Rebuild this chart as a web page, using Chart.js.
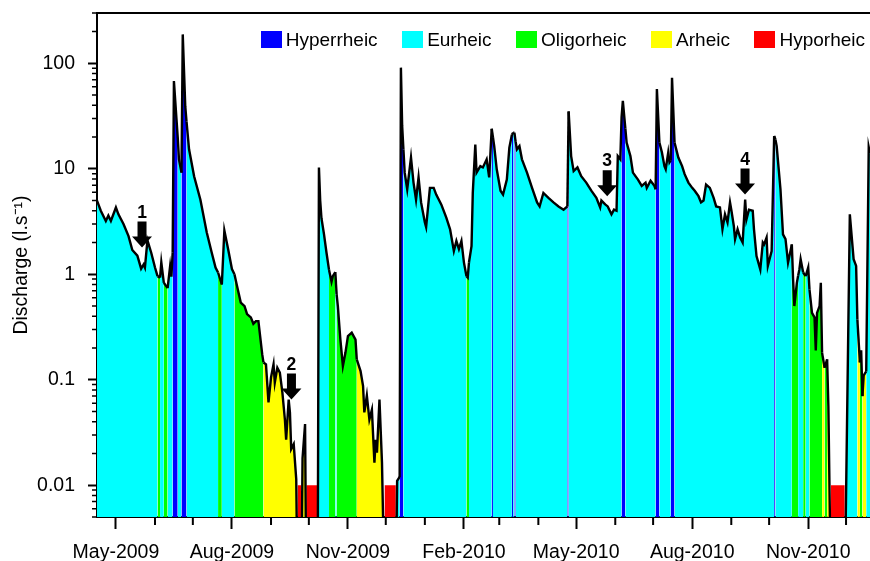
<!DOCTYPE html>
<html>
<head>
<meta charset="utf-8">
<title>Discharge and flow regimes</title>
<script src="https://cdn.jsdelivr.net/npm/chart.js@4.4.1/dist/chart.umd.min.js"></script>
<style>
    html, body { margin: 0; padding: 0; background: #fff; }
    #wrap { position: relative; width: 870px; height: 561px; }
    #legend {
        position: absolute; top: 31px; right: 5px;
        display: flex; gap: 24.5px;
        font: 19px Arial, "Liberation Sans", sans-serif; color: #000;
    }
    .item { display: flex; align-items: center; height: 17px; white-space: nowrap; }
    .box { width: 21px; height: 17px; margin-right: 4px; }
</style>
</head>
<body>
<div id="wrap">
    <canvas id="chart" width="870" height="561"></canvas>
    <div id="legend"></div>
</div>
<script>
// day 0 = 16-Apr-2009, one unit = one day
const START = Date.UTC(2009, 3, 16);
const LAST_DAY = 613;

// discharge (l/s); 0 = dry bed
const days = [
    0, 3, 7, 9, 11, 15, 17, 21, 25, 28, 32, 35, 37, 38, 40, 43, 46, 48, 50, 51,
    53, 56, 58, 59, 60, 61, 63, 64, 65, 67, 68, 70, 71, 73, 77, 82, 87, 91, 94, 96,
    99, 101, 104, 107, 109, 111, 114, 117, 119, 122, 124, 126, 128, 131, 132, 134, 136, 138, 140, 141,
    143, 145, 147, 149, 150, 152, 153, 154, 156, 158, 159, 162, 163, 165, 166, 175, 176, 177, 178, 180,
    182, 184, 186, 187, 189, 190, 191, 193, 195, 197, 199, 202, 205, 206, 209, 211, 212, 214, 216, 218,
    220, 221, 222, 224, 226, 228, 237, 238, 240, 241, 242, 243, 244, 246, 249, 251, 253, 255, 257, 260,
    261, 264, 267, 269, 273, 277, 280, 283, 285, 287, 289, 291, 293, 294, 295, 297, 298, 300, 301, 304,
    306, 309, 311, 313, 314, 315, 317, 320, 322, 325, 327, 329, 330, 331, 332, 333, 335, 337, 341, 345,
    349, 351, 354, 358, 362, 366, 370, 373, 374, 376, 378, 381, 384, 388, 392, 396, 399, 400, 403, 405,
    408, 410, 412, 413, 415, 416, 417, 419, 420, 423, 425, 429, 432, 435, 436, 439, 442, 443, 444, 446,
    448, 450, 451, 453, 454, 455, 456, 458, 461, 464, 466, 469, 472, 474, 477, 479, 481, 483, 486, 489,
    491, 494, 496, 498, 500, 502, 503, 505, 506, 508, 510, 512, 514, 515, 517, 520, 521, 523, 526, 528,
    529, 531, 532, 535, 537, 538, 539, 542, 544, 546, 548, 551, 552, 553, 555, 556, 557, 558, 560, 562,
    564, 565, 567, 569, 570, 571, 573, 574, 575, 577, 579, 580, 582, 593, 597, 600, 602, 603, 605, 606,
    607, 608, 610, 612, 613,
];
const flow = [
    5.0, 4.0, 3.2, 3.6, 3.2, 4.3, 3.7, 3.0, 2.3, 1.7, 1.5, 1.13, 1.24, 1.16, 2.1, 1.6, 1.16, 0.96, 0.93, 1.3,
    0.83, 0.74, 1.2, 0.95, 1.6, 68, 30, 20, 12.3, 9.2, 188, 39, 28, 15.3, 8.5, 5.1, 2.5, 1.6, 1.16, 1.04,
    0.80, 2.6, 1.73, 1.12, 1.0, 0.78, 0.54, 0.50, 0.42, 0.39, 0.34, 0.36, 0.36, 0.175, 0.146, 0.14, 0.061, 0.105, 0.14, 0.094,
    0.13, 0.117, 0.076, 0.042, 0.027, 0.065, 0.049, 0.022, 0.0245, 0.0114, 0, 0, 0.018, 0.038, 0, 0, 10.3, 5.0, 3.4, 2.4,
    1.6, 1.1, 0.85, 0.96, 1.05, 0.65, 0.50, 0.24, 0.135, 0.18, 0.26, 0.28, 0.24, 0.156, 0.121, 0.087, 0.049, 0.071, 0.042, 0.052,
    0.0164, 0.027, 0.0204, 0.065, 0.0164, 0, 0, 0.011, 0.012, 91, 25.5, 15.3, 9.2, 6.4, 12.8, 7.4, 5.1, 8.3, 4.8, 3.1,
    2.8, 6.6, 6.6, 5.7, 4.6, 3.45, 2.67, 1.66, 2.07, 1.73, 2.07, 1.29, 0.96, 0.93, 1.3, 1.85, 5.9, 17, 9.2, 10.6,
    10.3, 12.3, 8.3, 24, 20, 16.4, 9.9, 6.2, 5.7, 7.9, 15.9, 21, 22, 22, 18, 15.3, 16.4, 12.3, 9.2, 6.6,
    4.8, 4.4, 5.9, 5.3, 4.8, 4.4, 4.1, 4.4, 35, 13.2, 9.5, 10.3, 8.5, 7.4, 6.2, 5.3, 4.3, 5.0, 4.6, 4.4,
    3.7, 4.1, 4.0, 13.2, 12.3, 31, 44, 24, 17.7, 13.2, 9.2, 7.9, 6.9, 7.4, 6.6, 7.7, 6.9, 6.4, 57, 17.7,
    14.3, 10.6, 9.9, 14.3, 11.5, 12, 73, 17.7, 12.8, 10.6, 8.9, 7.4, 6.6, 6.2, 5.5, 4.8, 5.0, 7.1, 6.6, 5.3,
    4.4, 4.3, 2.67, 3.7, 3.1, 4.8, 4.1, 2.87, 2.15, 2.67, 2.23, 2.0, 5.1, 3.3, 4.1, 4.0, 2.67, 1.49, 1.11, 2.0,
    1.92, 2.23, 1.2, 1.66, 20.5, 19, 16.4, 6.4, 2.39, 2.15, 1.29, 1.92, 0.90, 0.50, 0.83, 0.97, 1.11, 1.39, 1.04, 0.96,
    1.16, 0.72, 0.43, 0.39, 0.19, 0.43, 0.50, 0.83, 0.18, 0.13, 0.156, 0.056, 0, 0, 3.7, 1.39, 1.2, 0.37, 0.146, 0.19,
    0.070, 0.11, 0.12, 16, 14,
];

// flow regime: each code holds from regimeFrom[i] to the next entry
const regimeFrom = [
    0, 48, 50, 53, 56, 60, 64, 67, 71, 96, 99, 109, 132, 159, 162, 166, 175, 184, 189, 190,
    206, 228, 237, 240, 243, 293, 295, 313, 314, 329, 330, 331, 332, 373, 374, 416, 419, 443, 446, 455,
    458, 537, 538, 551, 556, 560, 562, 565, 575, 577, 579, 582, 593, 603, 605, 607, 610, LAST_DAY,
];
const regimeCode = [
    "E", "O", "E", "O", "E", "H", "E", "H", "E", "O", "E", "O", "A", "P", "A", "P", "E", "O", "E", "O",
    "A", "P", "E", "H", "E", "O", "E", "H", "E", "H", "E", "H", "E", "H", "E", "H", "E", "H", "E", "H",
    "E", "H", "E", "O", "E", "O", "E", "O", "A", "O", "A", "P", "E", "A", "O", "A", "E",
];
const HYPO_LEVEL = 0.01; // hyporheic spells are flagged at this level

// numbered arrows
const markerDay = [35.7, 154.2, 404.6, 513.9];
const markerFlow = [1.79, 0.065, 5.5, 5.7];
const markerLabel = ["1", "2", "3", "4"];

const yMajor = [0.01, 0.1, 1, 10, 100];

const REGIMES = {
    H: { name: "Hyperrheic", color: "#0000ff" },
    E: { name: "Eurheic", color: "#00ffff" },
    O: { name: "Oligorheic", color: "#00ff00" },
    A: { name: "Arheic", color: "#ffff00" },
    P: { name: "Hyporheic", color: "#ff0000" },
};
const legendOrder = ["H", "E", "O", "A", "P"];
const MONTHS = ["Jan", "Feb", "Mar", "Apr", "May", "Jun", "Jul", "Aug", "Sep", "Oct", "Nov", "Dec"];
const DRY = 0.001; // below the axis floor, so a dry bed sits on the x axis
const FONT = 'Arial, "Liberation Sans", sans-serif';

function regimeAt(day) {
    let code = regimeCode[0];
    for (let i = 0; i < regimeCode.length && regimeFrom[i] <= day; i++) code = regimeCode[i];
    return code;
}

const months = [];
for (let yr = 2009; yr <= 2010; yr++) {
    for (let m = 0; m < 12; m++) {
        const d = (Date.UTC(yr, m, 1) - START) / 864e5;
        if (d >= 0 && d <= LAST_DAY) months.push({ day: d, label: `${MONTHS[m]}-${yr}`, major: m % 3 === 1 });
    }
}

const hypoSpells = [];
regimeCode.forEach((c, i) => {
    if (c !== "P") return;
    const end = regimeFrom[i + 1];
    hypoSpells.push({ x: regimeFrom[i], y: HYPO_LEVEL }, { x: end, y: HYPO_LEVEL }, { x: end, y: null });
});

// legend
const legend = document.getElementById("legend");
for (const code of legendOrder) {
    const item = document.createElement("div");
    item.className = "item";
    const box = document.createElement("div");
    box.className = "box";
    box.style.background = REGIMES[code].color;
    const txt = document.createElement("span");
    txt.textContent = REGIMES[code].name;
    item.appendChild(box);
    item.appendChild(txt);
    legend.appendChild(item);
}

const minorTicks = {
    id: "minorTicks",
    afterDraw(chart) {
        const { ctx, chartArea: a, scales: { x, y } } = chart;
        ctx.save();
        ctx.strokeStyle = "#000";
        ctx.lineWidth = 1.5;
        ctx.beginPath();
        for (let e = -3; e <= 2; e++) {
            for (let k = 2; k <= 9; k++) {
                const v = k * Math.pow(10, e);
                if (v < y.min * 0.999 || v > y.max * 1.001) continue;
                const py = y.getPixelForValue(v);
                ctx.moveTo(a.left - 5, py);
                ctx.lineTo(a.left, py);
            }
        }
        ctx.stroke();
        ctx.lineWidth = 2;
        ctx.beginPath();
        months.filter((m) => !m.major).forEach((m) => {
            const px = x.getPixelForValue(m.day);
            ctx.moveTo(px, a.bottom);
            ctx.lineTo(px, a.bottom + 8);
        });
        ctx.stroke();
        ctx.restore();
    },
};

const arrows = {
    id: "arrows",
    afterDatasetsDraw(chart) {
        const { ctx, scales: { x, y } } = chart;
        ctx.save();
        ctx.fillStyle = "#000";
        ctx.font = `bold 17.5px ${FONT}`;
        ctx.textAlign = "center";
        ctx.textBaseline = "alphabetic";
        markerDay.forEach((d, i) => {
            const px = x.getPixelForValue(d);
            const py = y.getPixelForValue(markerFlow[i]);
            ctx.beginPath();
            ctx.moveTo(px, py);
            ctx.lineTo(px - 10, py - 11);
            ctx.lineTo(px - 4.5, py - 11);
            ctx.lineTo(px - 4.5, py - 26);
            ctx.lineTo(px + 4.5, py - 26);
            ctx.lineTo(px + 4.5, py - 11);
            ctx.lineTo(px + 10, py - 11);
            ctx.closePath();
            ctx.fill();
            ctx.fillText(markerLabel[i], px, py - 30);
        });
        ctx.restore();
    },
};

// fixed frame: plot area 97..870 x 13..517
function noPad(s) {
    s.paddingTop = 0;
    s.paddingBottom = 0;
    s.paddingLeft = 0;
    s.paddingRight = 0;
}

Chart.defaults.font.family = FONT;
Chart.defaults.color = "#000";

new Chart(document.getElementById("chart"), {
    type: "line",
    data: {
        datasets: [
            {
                label: "Discharge",
                data: days.map((d, i) => ({ x: d, y: flow[i] > 0 ? flow[i] : DRY })),
                borderColor: "#000",
                borderWidth: 2.4,
                pointRadius: 0,
                tension: 0,
                fill: "start",
                backgroundColor: REGIMES.E.color,
                segment: {
                    backgroundColor: (ctx) => {
                        const c = regimeAt(ctx.p0.parsed.x);
                        return c === "P" ? "rgba(0,0,0,0)" : REGIMES[c].color;
                    },
                },
                order: 0,
            },
            {
                label: "Hyporheic",
                data: hypoSpells,
                borderColor: "rgba(0,0,0,0)",
                borderWidth: 0,
                pointRadius: 0,
                fill: "start",
                backgroundColor: REGIMES.P.color,
                spanGaps: false,
                order: 1,
            },
        ],
    },
    options: {
        responsive: false,
        animation: false,
        layout: { padding: 0 },
        plugins: {
            legend: { display: false },
            tooltip: { enabled: false },
        },
        scales: {
            x: {
                type: "linear",
                position: "bottom",
                min: 0,
                max: LAST_DAY,
                afterBuildTicks: (s) => {
                    s.ticks = months.filter((m) => m.major).map((m) => ({ value: m.day }));
                },
                ticks: {
                    autoSkip: false,
                    maxRotation: 0,
                    padding: 12,
                    font: { size: 19.5 },
                    callback: (v) => (months.find((m) => m.day === v) || {}).label,
                },
                grid: { drawOnChartArea: false, tickLength: 12, tickWidth: 2, tickColor: "#000" },
                border: { color: "#000", width: 2 },
                afterFit: (s) => { s.height = 44; noPad(s); },
            },
            top: {
                type: "linear",
                position: "top",
                min: 0,
                max: LAST_DAY,
                ticks: { display: false },
                grid: { drawOnChartArea: false, drawTicks: false },
                border: { color: "#000", width: 2 },
                afterFit: (s) => { s.height = 13; noPad(s); },
            },
            y: {
                type: "logarithmic",
                min: 0.005,
                max: 300,
                afterBuildTicks: (s) => {
                    s.ticks = yMajor.map((v) => ({ value: v }));
                },
                ticks: {
                    padding: 13,
                    font: { size: 19.5 },
                    callback: (v) => String(v),
                },
                grid: { drawOnChartArea: false, tickLength: 9, tickWidth: 2, tickColor: "#000" },
                border: { color: "#000", width: 2 },
                title: {
                    display: true,
                    text: "Discharge (l.s\u207B\u00B9)",
                    font: { size: 19.5 },
                    padding: { top: 10, bottom: 0 },
                },
                afterFit: (s) => { s.width = 97; noPad(s); },
            },
        },
    },
    plugins: [minorTicks, arrows],
});
</script>
</body>
</html>
